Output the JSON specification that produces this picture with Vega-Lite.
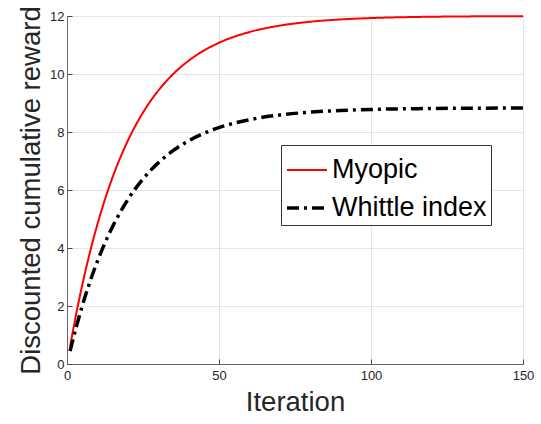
{
  "$schema": "https://vega.github.io/schema/vega-lite/v6.json",
  "width": 456,
  "height": 348,
  "autosize": {"type": "none"},
  "padding": {"left": 67, "top": 16, "right": 18, "bottom": 60},
  "background": "white",
  "config": {
    "font": "Liberation Sans",
    "view": {"stroke": "#666666", "strokeWidth": 1},
    "axis": {
      "grid": true,
      "gridColor": "#e5e5e5",
      "gridWidth": 1,
      "domainColor": "#666666",
      "tickColor": "#444444",
      "tickSize": -5,
      "labelColor": "#262626",
      "labelFontSize": 13,
      "labelFlush": false,
      "titleColor": "#262626",
      "titleFontSize": 27.5,
      "titleFontWeight": "normal"
    }
  },
  "data": {
    "values": [
      {"iteration": 1, "reward": 0.6, "method": "Myopic"},
      {"iteration": 3, "reward": 1.712, "method": "Myopic"},
      {"iteration": 5, "reward": 2.715, "method": "Myopic"},
      {"iteration": 7, "reward": 3.62, "method": "Myopic"},
      {"iteration": 10, "reward": 4.815, "method": "Myopic"},
      {"iteration": 13, "reward": 5.84, "method": "Myopic"},
      {"iteration": 16, "reward": 6.718, "method": "Myopic"},
      {"iteration": 20, "reward": 7.698, "method": "Myopic"},
      {"iteration": 25, "reward": 8.671, "method": "Myopic"},
      {"iteration": 30, "reward": 9.424, "method": "Myopic"},
      {"iteration": 35, "reward": 10.007, "method": "Myopic"},
      {"iteration": 40, "reward": 10.458, "method": "Myopic"},
      {"iteration": 45, "reward": 10.807, "method": "Myopic"},
      {"iteration": 50, "reward": 11.077, "method": "Myopic"},
      {"iteration": 60, "reward": 11.447, "method": "Myopic"},
      {"iteration": 70, "reward": 11.669, "method": "Myopic"},
      {"iteration": 80, "reward": 11.802, "method": "Myopic"},
      {"iteration": 90, "reward": 11.881, "method": "Myopic"},
      {"iteration": 100, "reward": 11.929, "method": "Myopic"},
      {"iteration": 115, "reward": 11.967, "method": "Myopic"},
      {"iteration": 130, "reward": 11.985, "method": "Myopic"},
      {"iteration": 150, "reward": 11.994, "method": "Myopic"},
      {"iteration": 1, "reward": 0.442, "method": "Whittle index"},
      {"iteration": 3, "reward": 1.259, "method": "Whittle index"},
      {"iteration": 5, "reward": 1.998, "method": "Whittle index"},
      {"iteration": 7, "reward": 2.664, "method": "Whittle index"},
      {"iteration": 10, "reward": 3.543, "method": "Whittle index"},
      {"iteration": 13, "reward": 4.297, "method": "Whittle index"},
      {"iteration": 16, "reward": 4.944, "method": "Whittle index"},
      {"iteration": 20, "reward": 5.665, "method": "Whittle index"},
      {"iteration": 25, "reward": 6.381, "method": "Whittle index"},
      {"iteration": 30, "reward": 6.935, "method": "Whittle index"},
      {"iteration": 35, "reward": 7.364, "method": "Whittle index"},
      {"iteration": 40, "reward": 7.695, "method": "Whittle index"},
      {"iteration": 45, "reward": 7.952, "method": "Whittle index"},
      {"iteration": 50, "reward": 8.151, "method": "Whittle index"},
      {"iteration": 60, "reward": 8.423, "method": "Whittle index"},
      {"iteration": 70, "reward": 8.586, "method": "Whittle index"},
      {"iteration": 80, "reward": 8.684, "method": "Whittle index"},
      {"iteration": 90, "reward": 8.743, "method": "Whittle index"},
      {"iteration": 100, "reward": 8.778, "method": "Whittle index"},
      {"iteration": 115, "reward": 8.806, "method": "Whittle index"},
      {"iteration": 130, "reward": 8.819, "method": "Whittle index"},
      {"iteration": 150, "reward": 8.826, "method": "Whittle index"}
    ]
  },
  "mark": {"type": "line", "interpolate": "monotone", "strokeCap": "butt"},
  "encoding": {
    "x": {
      "field": "iteration",
      "type": "quantitative",
      "scale": {"domain": [0, 150], "nice": false},
      "axis": {"values": [0, 50, 100, 150], "title": "Iteration", "labelPadding": 10, "titlePadding": 6}
    },
    "y": {
      "field": "reward",
      "type": "quantitative",
      "scale": {"domain": [0, 12], "nice": false},
      "axis": {"values": [0, 2, 4, 6, 8, 10, 12], "title": "Discounted cumulative reward", "labelPadding": 8, "titlePadding": 4}
    },
    "color": {
      "field": "method",
      "type": "nominal",
      "scale": {"domain": ["Myopic", "Whittle index"], "range": ["#ff0000", "#000000"]},
      "legend": {
        "title": null,
        "orient": "none",
        "legendX": 214,
        "legendY": 129,
        "labelFontSize": 27,
        "labelColor": "#000000",
        "symbolType": "stroke",
        "symbolSize": 1600,
        "labelOffset": 3,
        "rowPadding": 3,
        "padding": 4,
        "strokeColor": "#333333",
        "fillColor": "white"
      }
    },
    "strokeDash": {
      "field": "method",
      "type": "nominal",
      "scale": {"domain": ["Myopic", "Whittle index"], "range": [[1, 0], [12, 5, 3, 5]]},
      "legend": null
    },
    "strokeWidth": {
      "field": "method",
      "type": "nominal",
      "scale": {"domain": ["Myopic", "Whittle index"], "range": [2, 3.5]},
      "legend": null
    }
  }
}
